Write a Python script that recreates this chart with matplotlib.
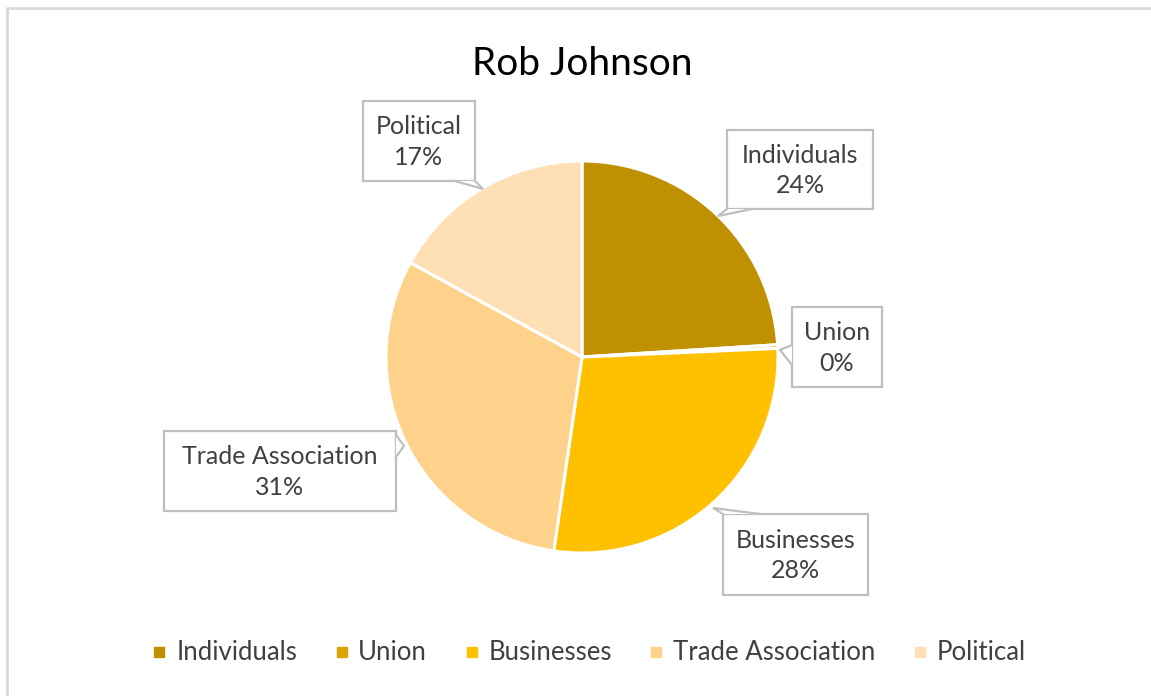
import matplotlib
matplotlib.use("Agg")
import matplotlib.pyplot as plt
from matplotlib.patches import Polygon, Rectangle
from matplotlib.lines import Line2D

plt.rcParams['font.family'] = ['Lato', 'DejaVu Sans']

title = "Rob Johnson"
categories = ["Individuals", "Union", "Businesses", "Trade Association", "Political"]
values = [24.0, 0.3, 28.0, 30.7, 17.0]
colors = ["#BF9000", "#DBA500", "#FFC000", "#FFD28C", "#FFE0B5"]

W, H = 1151, 696
fig = plt.figure(figsize=(W / 100, H / 100), dpi=100)
ax = fig.add_axes([0, 0, 1, 1])

def py(y):
    return H - y

cx, cy, r = 582, py(357), 196
wedges, _ = ax.pie(values, colors=colors, startangle=90, counterclock=False,
                   center=(cx, cy), radius=r,
                   wedgeprops=dict(edgecolor="white", linewidth=2.2))
ax.set_xlim(0, W)
ax.set_ylim(0, H)
ax.set_aspect('equal')
ax.axis('off')

# chart area border
ax.plot([7, 7, W + 5], [-5, py(8), py(8)], color="#D9D9D9", lw=2, clip_on=False)

ax.text(cx, py(64), title, ha='center', va='center', fontsize=28, color="#000000")

total = sum(values)
txtcol = "#404040"
edgec = "#BFBFBF"

# box: (left, top, right, bottom) ; pointer base points and tip in pixels
boxes = {
    "Individuals": ((727, 130, 873, 209), [(727, 209), (752, 209)], (718, 216)),
    "Union": ((792, 307, 882, 387), [(792, 345), (792, 365)], (780, 350)),
    "Businesses": ((723, 514, 868, 595), [(723, 514), (760, 514)], (713, 508)),
    "Trade Association": ((164, 431, 396, 511), [(396, 435), (396, 457)], (404, 446)),
    "Political": ((363, 101, 475, 181), [(455, 181), (475, 181)], (483, 189)),
}

for cat, v in zip(categories, values):
    (l, t, rr, b), base, tip = boxes[cat]
    ax.add_patch(Rectangle((l, py(b)), rr - l, b - t, facecolor="white",
                           edgecolor=edgec, lw=1.6, zorder=5))
    tri = [(base[0][0], py(base[0][1])), (tip[0], py(tip[1])), (base[1][0], py(base[1][1]))]
    ax.add_patch(Polygon(tri, closed=True, facecolor="white", edgecolor="none", zorder=6))
    ax.plot([p[0] for p in tri], [p[1] for p in tri], color=edgec, lw=1.6, zorder=7,
            solid_joinstyle='miter')
    pct = round(v / total * 100)
    ax.text((l + rr) / 2, py((t + b) / 2) - 1, f"{cat}\n{pct}%", ha='center', va='center',
            fontsize=18, color=txtcol, linespacing=1.42, zorder=8)

handles = [Line2D([0], [0], marker='s', linestyle='none', markersize=7.5,
                  markerfacecolor=c, markeredgecolor=c) for c in colors]
fig.legend(handles, categories, loc='center', bbox_to_anchor=(0.512, 1 - 653 / H),
           ncol=5, frameon=False, fontsize=18.5, handlelength=0.5, handletextpad=0.4,
           columnspacing=1.48, labelcolor=txtcol)

fig.savefig("out.png", dpi=100)
